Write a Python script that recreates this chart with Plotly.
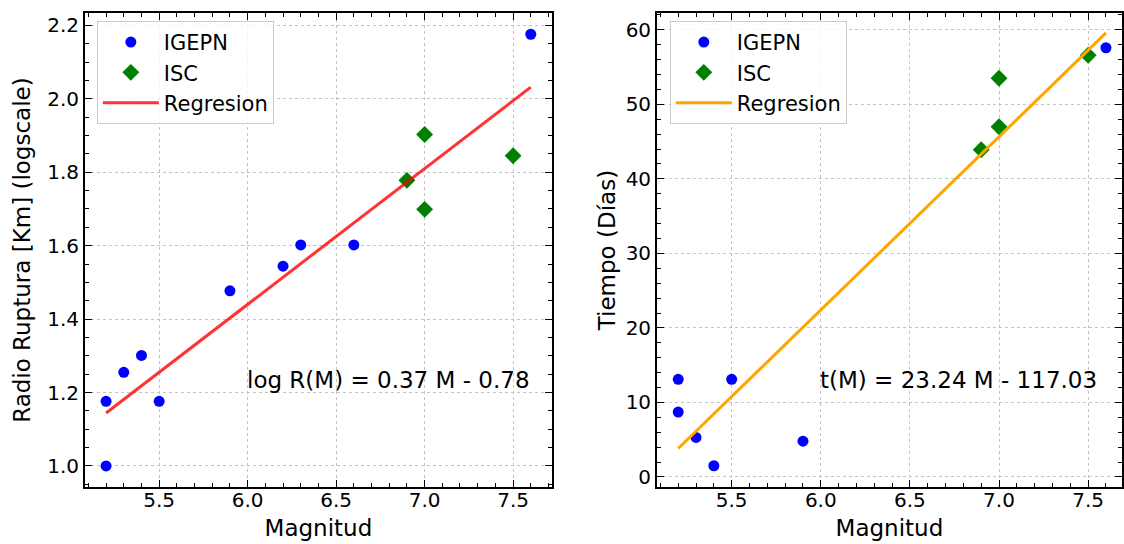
import plotly.graph_objects as go

# ---------------- data ----------------
# Left panel: log10 of rupture radius [km] vs magnitude
igepn_mag = [5.2, 5.2, 5.3, 5.4, 5.5, 5.9, 6.2, 6.3, 6.6, 7.6]
igepn_logr = [1.000, 1.176, 1.255, 1.301, 1.176, 1.477, 1.544, 1.602, 1.602, 2.176]
isc_mag = [6.9, 7.0, 7.0, 7.5]
isc_logr = [1.778, 1.903, 1.699, 1.845]

# Right panel: time [days] vs magnitude
igepn_mag_t = [5.2, 5.2, 5.3, 5.4, 5.5, 5.9, 7.6]
igepn_days = [13.1, 8.7, 5.3, 1.5, 13.1, 4.8, 57.6]
isc_mag_t = [6.9, 7.0, 7.0, 7.5]
isc_days = [43.9, 53.5, 47.0, 56.6]

# Regression coefficients (as printed on the chart)
logr_slope, logr_intercept = 0.37, -0.78
t_slope, t_intercept = 23.24, -117.03

x_tickvals = [5.5, 6.0, 6.5, 7.0, 7.5]
logr_tickvals = [1.0, 1.2, 1.4, 1.6, 1.8, 2.0, 2.2]
days_tickvals = [0, 10, 20, 30, 40, 50, 60]

# regression lines over the magnitude span of the data
mag_all = igepn_mag + isc_mag
reg_x = [min(mag_all), max(mag_all)]
reg_logr = [logr_slope * m + logr_intercept for m in reg_x]
mag_all_t = igepn_mag_t + isc_mag_t
reg_x_t = [min(mag_all_t), max(mag_all_t)]
reg_days = [t_slope * m + t_intercept for m in reg_x_t]

W, H = 1124, 544
FONT = "DejaVu Sans"

fig = go.Figure()

fig.add_trace(go.Scatter(x=igepn_mag, y=igepn_logr, mode="markers", name="IGEPN",
                         marker=dict(color="#0000ff", size=11, symbol="circle"),
                         xaxis="x", yaxis="y", legend="legend"))
fig.add_trace(go.Scatter(x=isc_mag, y=isc_logr, mode="markers", name="ISC",
                         marker=dict(color="#008000", size=13, symbol="diamond"),
                         xaxis="x", yaxis="y", legend="legend"))
fig.add_trace(go.Scatter(x=reg_x, y=reg_logr, mode="lines", name="Regresion",
                         line=dict(color="rgba(255,0,0,0.8)", width=3),
                         xaxis="x", yaxis="y", legend="legend"))

fig.add_trace(go.Scatter(x=igepn_mag_t, y=igepn_days, mode="markers", name="IGEPN",
                         marker=dict(color="#0000ff", size=11, symbol="circle"),
                         xaxis="x2", yaxis="y2", legend="legend2"))
fig.add_trace(go.Scatter(x=isc_mag_t, y=isc_days, mode="markers", name="ISC",
                         marker=dict(color="#008000", size=13, symbol="diamond"),
                         xaxis="x2", yaxis="y2", legend="legend2"))
fig.add_trace(go.Scatter(x=reg_x_t, y=reg_days, mode="lines", name="Regresion",
                         line=dict(color="#ffa500", width=3),
                         xaxis="x2", yaxis="y2", legend="legend2"))


def axis_style(minor_dtick, minor_tick0):
    return dict(
        showline=True, linecolor="black", linewidth=1.5, mirror="ticks",
        ticks="inside", ticklen=7, tickwidth=1.2, tickcolor="black",
        showgrid=True, gridcolor="#c4c4c4", griddash="dot", gridwidth=0.8,
        zeroline=False,
        tickfont=dict(size=20, color="black", family=FONT),
        title_font=dict(size=23, color="black", family=FONT),
        tickformat=".1f",
        minor=dict(ticks="inside", ticklen=4, tickwidth=1, tickcolor="black",
                   showgrid=False, dtick=minor_dtick, tick0=minor_tick0),
    )


ydom = [1 - 489 / H, 1 - 13 / H]

xa = axis_style(0.1, 5.0)
xa.update(domain=[85 / W, 553 / W], range=[5.08, 7.72], tickmode="array",
          tickvals=x_tickvals, anchor="y", ticklabelstandoff=-6,
          title=dict(text="Magnitud", standoff=9))
ya = axis_style(0.05, 1.0)
ya.update(domain=ydom, range=[0.942, 2.234], tickmode="array",
          tickvals=logr_tickvals, anchor="x",
          title=dict(text="Radio Ruptura [Km] (logscale)", standoff=10))

xa2 = axis_style(0.1, 5.0)
xa2.update(domain=[658 / W, 1.0], range=[5.08, 7.69], tickmode="array",
           tickvals=x_tickvals, anchor="y2", ticklabelstandoff=-6,
           title=dict(text="Magnitud", standoff=9))
ya2 = axis_style(2, 0)
ya2.update(domain=ydom, range=[-1.38, 62.27], tickmode="array",
           tickvals=days_tickvals, anchor="x2", tickformat="d",
           title=dict(text="Tiempo (Días)", standoff=4))

legend_style = dict(xref="paper", yref="paper", xanchor="left", yanchor="top",
                    bordercolor="#cccccc", borderwidth=1,
                    bgcolor="rgba(255,255,255,0.8)",
                    font=dict(size=21, color="black", family=FONT),
                    itemwidth=56, tracegroupgap=0)

fig.update_layout(
    width=W, height=H,
    margin=dict(l=0, r=0, t=0, b=0),
    paper_bgcolor="white", plot_bgcolor="white",
    font=dict(family=FONT, color="black"),
    xaxis=xa, yaxis=ya, xaxis2=xa2, yaxis2=ya2,
    legend=dict(x=97 / W, y=1 - 21 / H, **legend_style),
    legend2=dict(x=671 / W, y=1 - 21 / H, **legend_style),
    annotations=[
        dict(text=f"log R(M) = {logr_slope:.2f} M - {abs(logr_intercept):.2f}",
             x=5.985, y=1.235, xref="x", yref="y", xanchor="left", yanchor="middle",
             showarrow=False, font=dict(size=23, color="black", family=FONT)),
        dict(text=f"t(M) = {t_slope:.2f} M - {abs(t_intercept):.2f}",
             x=5.985, y=13.0, xref="x2", yref="y2", xanchor="left", yanchor="middle",
             showarrow=False, font=dict(size=23, color="black", family=FONT)),
    ],
)

fig.write_html("out.html", config={"displayModeBar": False},
               post_script="document.body.style.margin='0';document.body.style.overflow='hidden';")
